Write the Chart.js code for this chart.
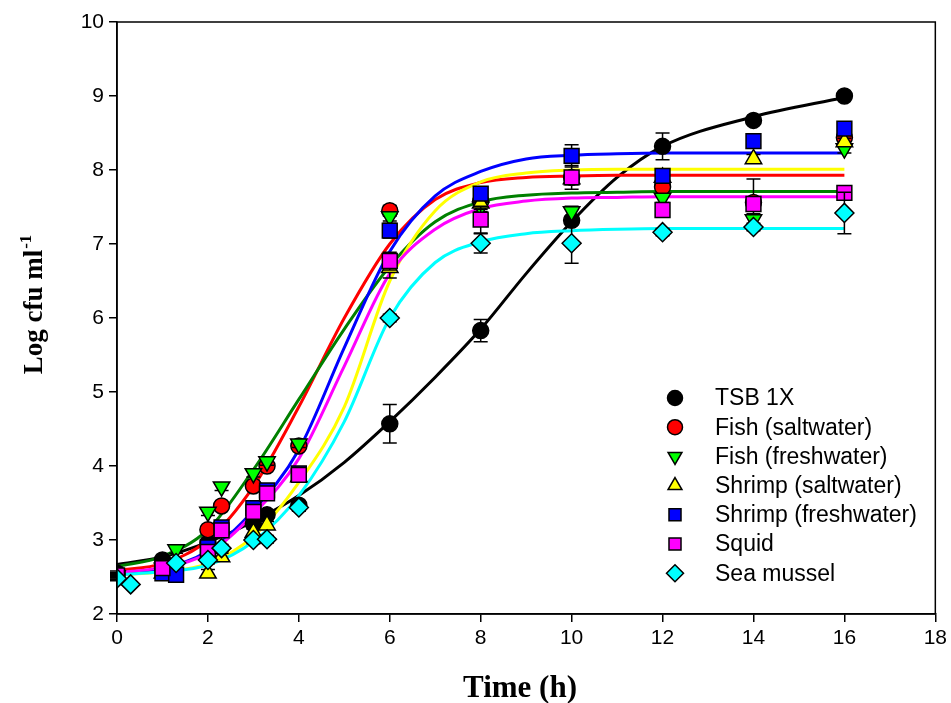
<!DOCTYPE html>
<html>
<head>
<meta charset="utf-8">
<script src="https://cdn.jsdelivr.net/npm/chart.js@4.4.1/dist/chart.umd.min.js"></script>
<style>
html, body { margin: 0; padding: 0; background: #fff; }
#wrap { width: 951px; height: 703px; position: relative; }
</style>
</head>
<body>
<div id="wrap"><canvas id="growth"></canvas></div>
<script>
// measured points: sampling times (h), null = no point at that time
const sampleTimes = [0, 0.3, 1, 1.3, 2, 2.3, 3, 3.3, 4, 6, 8, 10, 12, 14, 16];

const tsbLog     = [2.55, null, 2.73, null, 2.96, null, 3.22, 3.34, 3.47, 4.57, 5.83, 7.32, 8.32, 8.67, 9.00];
const tsbErr     = [0.03, null, 0.03, null, 0.05, null, 0.05, 0.05, 0.05, 0.26, 0.15, 0.06, 0.18, 0.05, 0.05];
const fishSaltLog  = [2.53, null, 2.62, null, 3.14, 3.46, 3.73, 4.00, 4.27, 7.45, 7.58, 7.90, 7.77, 7.56, 8.44];
const fishSaltErr  = [0.03, null, 0.04, null, 0.05, 0.05, 0.05, 0.05, 0.05, 0.07, 0.08, 0.06, 0.06, 0.32, 0.08];
const fishFreshLog = [2.52, null, 2.62, 2.87, 3.38, 3.72, 3.90, 4.06, 4.30, 7.37, 7.50, 7.44, 7.62, 7.33, 8.29];
const fishFreshErr = [0.03, null, 0.03, 0.05, 0.05, 0.05, 0.05, 0.05, 0.05, 0.06, 0.06, 0.07, 0.06, 0.08, 0.06];
const shrimpSaltLog  = [2.50, null, 2.55, null, 2.55, 2.77, 3.10, 3.20, 3.85, 6.68, 7.55, 7.88, 7.90, 8.15, 8.38];
const shrimpSaltErr  = [0.03, null, 0.03, null, 0.05, 0.05, 0.05, 0.05, 0.05, 0.14, 0.08, 0.08, 0.08, 0.06, 0.05];
const shrimpFreshLog = [2.50, null, 2.55, 2.53, 2.90, 3.17, 3.43, 3.67, 3.90, 7.18, 7.68, 8.19, 7.92, 8.39, 8.56];
const shrimpFreshErr = [0.03, null, 0.03, 0.03, 0.05, 0.05, 0.05, 0.05, 0.05, 0.10, 0.08, 0.15, 0.06, 0.05, 0.06];
const squidLog   = [2.52, null, 2.62, null, 2.84, 3.13, 3.38, 3.63, 3.88, 6.77, 7.33, 7.90, 7.46, 7.54, 7.69];
const squidErr   = [0.03, null, 0.03, null, 0.05, 0.05, 0.05, 0.05, 0.05, 0.12, 0.18, 0.16, 0.07, 0.08, 0.05];
const musselLog  = [2.48, 2.40, null, 2.69, 2.73, 2.89, 3.00, 3.01, 3.44, 6.00, 7.01, 7.01, 7.16, 7.23, 7.42];
const musselErr  = [0.03, 0.03, null, 0.03, 0.05, 0.05, 0.05, 0.05, 0.05, 0.05, 0.13, 0.27, 0.05, 0.05, 0.28];

// fitted growth curves
const fitTimes = [0, 1, 2, 3, 4, 5, 6, 7, 8, 9, 10, 11, 12, 14, 16];
const tsbFit         = [2.67, 2.77, 2.97, 3.25, 3.60, 4.05, 4.60, 5.20, 5.85, 6.60, 7.30, 7.90, 8.32, 8.72, 8.98];
const fishSaltFit    = [2.59, 2.68, 3.00, 3.72, 4.80, 6.00, 7.00, 7.60, 7.83, 7.90, 7.92, 7.93, 7.93, 7.93, 7.93];
const fishFreshFit   = [2.64, 2.78, 3.14, 3.95, 4.90, 5.85, 6.70, 7.30, 7.57, 7.66, 7.69, 7.70, 7.71, 7.71, 7.71];
const shrimpSaltFit  = [2.53, 2.57, 2.68, 3.05, 3.78, 4.80, 6.50, 7.45, 7.84, 7.96, 8.00, 8.01, 8.01, 8.01, 8.01];
const shrimpFreshFit = [2.55, 2.62, 2.85, 3.40, 4.22, 5.60, 6.90, 7.65, 7.98, 8.15, 8.20, 8.22, 8.23, 8.23, 8.23];
const squidFit       = [2.56, 2.63, 2.82, 3.35, 4.10, 5.35, 6.60, 7.20, 7.48, 7.58, 7.62, 7.63, 7.64, 7.64, 7.64];
const musselFit      = [2.53, 2.57, 2.66, 2.98, 3.60, 4.60, 6.00, 6.75, 7.03, 7.14, 7.18, 7.20, 7.21, 7.21, 7.21];

const xTicks = [0, 2, 4, 6, 8, 10, 12, 14, 16, 18];
const yTicks = [2, 3, 4, 5, 6, 7, 8, 9, 10];

const series = [
    { label: 'TSB 1X',               vals: tsbLog,         err: tsbErr,         fit: tsbFit,         fill: '#000000', line: '#000000', style: 'circle',   rot: 0,   r: 8 },
    { label: 'Fish (saltwater)',     vals: fishSaltLog,    err: fishSaltErr,    fit: fishSaltFit,    fill: '#ff0000', line: '#ff0000', style: 'circle',   rot: 0,   r: 8 },
    { label: 'Fish (freshwater)',    vals: fishFreshLog,   err: fishFreshErr,   fit: fishFreshFit,   fill: '#00ff00', line: '#008000', style: 'triangle', rot: 180, r: 9.5 },
    { label: 'Shrimp (saltwater)',   vals: shrimpSaltLog,  err: shrimpSaltErr,  fit: shrimpSaltFit,  fill: '#ffff00', line: '#ffff00', style: 'triangle', rot: 0,   r: 9.5 },
    { label: 'Shrimp (freshwater)',  vals: shrimpFreshLog, err: shrimpFreshErr, fit: shrimpFreshFit, fill: '#0000ff', line: '#0000ff', style: 'rect',     rot: 0,   r: 10.5 },
    { label: 'Squid',                vals: squidLog,       err: squidErr,       fit: squidFit,       fill: '#ff00ff', line: '#ff00ff', style: 'rect',     rot: 0,   r: 10.5 },
    { label: 'Sea mussel',           vals: musselLog,      err: musselErr,      fit: musselFit,      fill: '#00ffff', line: '#00ffff', style: 'rectRot',  rot: 0,   r: 9.5 }
];

let datasets = [];
series.forEach((s, i) => {
    // fitted line, drawn underneath everything
    datasets.push({
        label: s.label + ' fit',
        data: fitTimes.map((t, k) => ({ x: t, y: s.fit[k] })),
        showLine: true,
        borderColor: s.line,
        borderWidth: 3,
        pointRadius: 0,
        cubicInterpolationMode: 'monotone',
        order: 100 - i
    });
    let pts = [], errs = [];
    sampleTimes.forEach((t, k) => {
        if (s.vals[k] !== null) {
            pts.push({ x: t, y: s.vals[k] });
            errs.push(s.err[k]);
        }
    });
    datasets.push({
        label: s.label,
        data: pts,
        errors: errs,
        showLine: false,
        pointStyle: s.style,
        rotation: s.rot,
        pointRadius: s.r,
        pointBackgroundColor: s.fill,
        pointBorderColor: '#000000',
        pointBorderWidth: 1.5,
        order: 10 - i
    });
});

// error bars go in just before the markers of the same series
const errorBars = {
    id: 'errorBars',
    beforeDatasetDraw(chart, args) {
        const ds = chart.data.datasets[args.index];
        if (!ds.errors) return;
        const ctx = chart.ctx;
        const xs = chart.scales.x, ys = chart.scales.y;
        ctx.save();
        ctx.strokeStyle = '#000';
        ctx.lineWidth = 1.5;
        ds.data.forEach((p, k) => {
            const e = ds.errors[k];
            if (!e) return;
            const px = xs.getPixelForValue(p.x);
            const top = ys.getPixelForValue(p.y + e);
            const bot = ys.getPixelForValue(p.y - e);
            ctx.beginPath();
            ctx.moveTo(px, top); ctx.lineTo(px, bot);
            ctx.moveTo(px - 7, top); ctx.lineTo(px + 7, top);
            ctx.moveTo(px - 7, bot); ctx.lineTo(px + 7, bot);
            ctx.stroke();
        });
        ctx.restore();
    }
};

// box frame, axis titles and the legend inside the plot
const decorations = {
    id: 'decorations',
    afterDraw(chart) {
        const ctx = chart.ctx;
        const a = chart.chartArea;
        ctx.save();
        ctx.strokeStyle = '#000';
        ctx.lineWidth = 1.5;
        ctx.strokeRect(a.left, a.top, a.right - a.left, a.bottom - a.top);

        // x title
        ctx.fillStyle = '#000';
        ctx.font = 'bold 31px "Liberation Serif", "Times New Roman", serif';
        ctx.textAlign = 'center';
        ctx.textBaseline = 'alphabetic';
        ctx.fillText('Time (h)', 520, 697);

        // y title with superscript
        ctx.translate(42, 305);
        ctx.rotate(-Math.PI / 2);
        const main = 'Log cfu ml';
        const sup = '-1';
        ctx.font = 'bold 27px "Liberation Serif", "Times New Roman", serif';
        const wMain = ctx.measureText(main).width;
        ctx.font = 'bold 17px "Liberation Serif", "Times New Roman", serif';
        const wSup = ctx.measureText(sup).width;
        const x0 = -(wMain + wSup) / 2;
        ctx.textAlign = 'left';
        ctx.font = 'bold 27px "Liberation Serif", "Times New Roman", serif';
        ctx.fillText(main, x0, 0);
        ctx.font = 'bold 17px "Liberation Serif", "Times New Roman", serif';
        ctx.fillText(sup, x0 + wMain + 1, -11);
        ctx.restore();

        // legend
        ctx.save();
        ctx.font = '23px "Liberation Sans", Arial, sans-serif';
        ctx.textBaseline = 'middle';
        ctx.textAlign = 'left';
        series.forEach((s, i) => {
            const y = 398 + i * 29.2;
            ctx.fillStyle = s.fill;
            ctx.strokeStyle = '#000';
            ctx.lineWidth = 1.5;
            Chart.helpers.drawPoint(ctx, {
                pointStyle: s.style,
                rotation: s.rot,
                radius: s.style === 'circle' ? 7.5 : (s.style === 'triangle' ? 8 : 8.5),
                borderWidth: 1.5
            }, 675, y);
            ctx.fillStyle = '#000';
            ctx.fillText(s.label, 715, y + 1);
        });
        ctx.restore();
    }
};

const tickFont = { family: '"Liberation Sans", Arial, sans-serif', size: 21 };

new Chart(document.getElementById('growth'), {
    type: 'scatter',
    data: { datasets: datasets },
    plugins: [errorBars, decorations],
    options: {
        responsive: true,
        maintainAspectRatio: false,
        animation: false,
        layout: { padding: { top: 22, right: 14, left: 0, bottom: 0 } },
        plugins: {
            legend: { display: false },
            tooltip: { enabled: false }
        },
        scales: {
            x: {
                type: 'linear',
                min: 0,
                max: 18,
                afterBuildTicks: (scale) => { scale.ticks = xTicks.map(v => ({ value: v })); },
                afterFit: (scale) => { scale.height = 89; },
                ticks: { color: '#000', font: tickFont, padding: 4, maxRotation: 0 },
                grid: { display: true, drawOnChartArea: false, drawTicks: true, tickLength: 8, color: '#000', lineWidth: 1.5 },
                border: { display: true, color: '#000', width: 1.5 }
            },
            y: {
                type: 'linear',
                min: 2,
                max: 10,
                afterBuildTicks: (scale) => { scale.ticks = yTicks.map(v => ({ value: v })); },
                afterFit: (scale) => { scale.width = 117; },
                ticks: { color: '#000', font: tickFont, padding: 5 },
                grid: { display: true, drawOnChartArea: false, drawTicks: true, tickLength: 8, color: '#000', lineWidth: 1.5 },
                border: { display: true, color: '#000', width: 1.5 }
            }
        }
    }
});
</script>
</body>
</html>
